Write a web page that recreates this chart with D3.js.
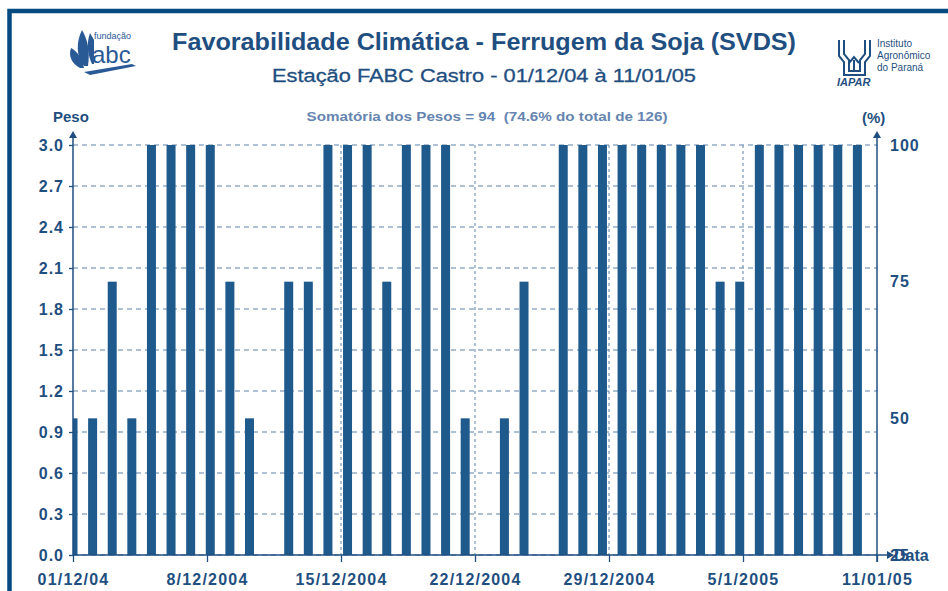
<!DOCTYPE html>
<html>
<head>
<meta charset="utf-8">
<script src="https://cdn.jsdelivr.net/npm/d3@7/dist/d3.min.js"></script>
<style>
body { margin: 0; background: #fff; }
svg { display: block; }
</style>
</head>
<body>
<svg width="948" height="591"></svg>
<script>
// pesos diarios 01/12/04 .. 11/01/05
var pesos = [1, 1, 2, 1, 3, 3, 3, 3, 2, 1,
             0, 2, 2, 3, 3, 3, 2, 3, 3, 3,
             1, 0, 1, 2, 0, 3, 3, 3, 3, 3,
             3, 3, 3, 2, 2, 3, 3, 3, 3, 3,
             3, 0];
var dateLabels = ["01/12/04", "8/12/2004", "15/12/2004", "22/12/2004", "29/12/2004", "5/1/2005", "11/01/05"];
var pesoTicks = [0.0, 0.3, 0.6, 0.9, 1.2, 1.5, 1.8, 2.1, 2.4, 2.7, 3.0];
var pctTicks = [25, 50, 75, 100];

var dark = "#1f4f80";
var barColor = "#1f5a8c";
var gridColor = "#5f82aa";

var svg = d3.select("svg");

var pLeft = 73, pRight = 877, pTop = 145, pBottom = 555;

var x = d3.scaleLinear().domain([0, pesos.length - 1]).range([pLeft, pRight]);
var xd = d3.scalePoint().domain(dateLabels).range([pLeft, pRight]);
var y = d3.scaleLinear().domain([0, 3]).range([pBottom, pTop]);
var y2 = d3.scaleLinear().domain([25, 100]).range([pBottom, pTop]);

// moldura
svg.append("rect")
  .attr("x", 9.5).attr("y", 11)
  .attr("width", 960).attr("height", 600)
  .attr("fill", "none")
  .attr("stroke", "#054a80")
  .attr("stroke-width", 4.5);

// titulos
svg.append("text")
  .attr("x", 484).attr("y", 50)
  .attr("text-anchor", "middle")
  .attr("textLength", 624).attr("lengthAdjust", "spacingAndGlyphs")
  .style("font", "bold 23px 'Liberation Sans', Arial, sans-serif")
  .attr("fill", dark)
  .text("Favorabilidade Climática - Ferrugem da Soja (SVDS)");

svg.append("text")
  .attr("x", 484).attr("y", 82)
  .attr("text-anchor", "middle")
  .attr("textLength", 424).attr("lengthAdjust", "spacingAndGlyphs")
  .style("font", "18px 'Liberation Sans', Arial, sans-serif")
  .attr("fill", dark)
  .attr("stroke", dark).attr("stroke-width", 0.3)
  .text("Estação FABC Castro - 01/12/04 à 11/01/05");

svg.append("text")
  .attr("x", 487).attr("y", 121)
  .attr("text-anchor", "middle")
  .attr("textLength", 361).attr("lengthAdjust", "spacingAndGlyphs")
  .style("font", "bold 13px 'Liberation Sans', Arial, sans-serif")
  .attr("fill", "#6585b0")
  .attr("xml:space", "preserve")
  .text("Somatória dos Pesos = 94  (74.6% do total de 126)");

svg.append("text")
  .attr("x", 53).attr("y", 122)
  .style("font", "bold 15px 'Liberation Sans', Arial, sans-serif")
  .attr("fill", dark)
  .text("Peso");

svg.append("text")
  .attr("x", 862).attr("y", 123)
  .style("font", "bold 15px 'Liberation Sans', Arial, sans-serif")
  .attr("fill", dark)
  .text("(%)");

// grade horizontal
svg.append("g").selectAll("line").data(pesoTicks).enter().append("line")
  .attr("x1", pLeft).attr("x2", pRight)
  .attr("y1", d => y(d)).attr("y2", d => y(d))
  .attr("stroke", gridColor)
  .attr("stroke-width", 1.2)
  .attr("stroke-dasharray", "5,4");

// grade vertical
svg.append("g").selectAll("line").data(dateLabels.slice(1, -1)).enter().append("line")
  .attr("x1", d => xd(d)).attr("x2", d => xd(d))
  .attr("y1", pTop).attr("y2", pBottom)
  .attr("stroke", gridColor)
  .attr("stroke-width", 1)
  .attr("stroke-dasharray", "3,3");

// barras
svg.append("clipPath").attr("id", "plot")
  .append("rect").attr("x", pLeft).attr("y", 0).attr("width", pRight - pLeft).attr("height", pBottom);

svg.append("g").attr("clip-path", "url(#plot)")
  .selectAll("rect").data(pesos).enter().append("rect")
  .attr("x", (d, i) => x(i) - 4.5)
  .attr("width", 9)
  .attr("y", d => y(d))
  .attr("height", d => pBottom - y(d))
  .attr("fill", barColor);

// eixos
var tickFont = "bold 16px 'Liberation Sans', Arial, sans-serif";

var yAxis = svg.append("g")
  .attr("transform", "translate(" + pLeft + ",0)")
  .call(d3.axisLeft(y).tickValues(pesoTicks).tickFormat(d3.format(".1f")).tickSize(4).tickPadding(5));

var y2Axis = svg.append("g")
  .attr("transform", "translate(" + pRight + ",0)")
  .call(d3.axisRight(y2).tickValues(pctTicks).tickSize(0).tickPadding(13));

var xAxis = svg.append("g")
  .attr("transform", "translate(0," + pBottom + ")")
  .call(d3.axisBottom(xd).tickSize(7).tickPadding(9));

[yAxis, y2Axis, xAxis].forEach(function(g){
  g.select(".domain").remove();
  g.selectAll("line").attr("stroke", dark).attr("stroke-width", 1.3);
  g.selectAll("text").style("font", tickFont).style("letter-spacing", "1px").attr("fill", dark);
});
xAxis.selectAll("text").style("letter-spacing", "1.2px").attr("dy", "0.9em");

// linhas dos eixos com setas
var axisLines = [
  [pLeft, pBottom, pLeft, 133],
  [pRight, pBottom + 7, pRight, 133],
  [pLeft, pBottom, 892, pBottom]
];
svg.append("g").selectAll("line").data(axisLines).enter().append("line")
  .attr("x1", d => d[0]).attr("y1", d => d[1])
  .attr("x2", d => d[2]).attr("y2", d => d[3])
  .attr("stroke", dark).attr("stroke-width", 1.5);

var arrows = [
  "M" + (pLeft - 4) + ",138 L" + pLeft + ",131 L" + (pLeft + 4) + ",138 Z",
  "M" + (pRight - 4) + ",138 L" + pRight + ",131 L" + (pRight + 4) + ",138 Z",
  "M887," + (pBottom - 4) + " L894," + pBottom + " L887," + (pBottom + 4) + " Z"
];
svg.append("g").selectAll("path").data(arrows).enter().append("path")
  .attr("d", d => d)
  .attr("fill", dark);

svg.append("text")
  .attr("x", 894).attr("y", pBottom + 6)
  .style("font", "bold 16px 'Liberation Sans', Arial, sans-serif")
  .attr("fill", dark)
  .text("Data");

// logo fundacao abc (simplificado)
var logo1 = svg.append("g").attr("fill", "#2a5a96");
logo1.append("path").attr("d", "M82,30 C76,42 76,56 84,66 L88,66 C90,52 88,40 82,30 Z");
logo1.append("path").attr("d", "M71,48 C68,56 72,64 80,68 L84,68 C82,58 78,52 71,48 Z");
logo1.append("path").attr("d", "M90,33 C86,44 88,56 92,64 L94,64 L94,40 Z");
logo1.append("path").attr("d", "M84,72 L132,64 L136,66 L90,75 Z");
svg.append("text").attr("x", 94).attr("y", 39)
  .style("font", "9px 'Liberation Sans', Arial, sans-serif").attr("fill", "#2a5a96")
  .text("fundação");
svg.append("text").attr("x", 92).attr("y", 63)
  .style("font", "24px 'Liberation Sans', Arial, sans-serif").attr("fill", "#2a5a96")
  .text("abc");

// logo IAPAR (simplificado)
var logo2 = svg.append("g").attr("fill", "none").attr("stroke", "#1f4f80").attr("stroke-width", 2);
logo2.append("path").attr("d", "M839,40 L839,56 L844,62 L844,75 L865,75 L865,62 L870,56 L870,40");
logo2.append("path").attr("d", "M844,40 L844,54 L849,60 L849,71 L860,71 L860,60 L865,54 L865,40");
logo2.append("path").attr("d", "M854,71 L854,60 M849,63 L854,57 L859,63");
svg.append("text").attr("x", 837).attr("y", 86)
  .style("font", "italic bold 11px 'Liberation Sans', Arial, sans-serif").attr("fill", "#1f4f80")
  .text("IAPAR");
var iapar = ["Instituto", "Agronômico", "do Paraná"];
svg.append("g").selectAll("text").data(iapar).enter().append("text")
  .attr("x", 877).attr("y", (d, i) => 47 + i * 12)
  .style("font", "10px 'Liberation Sans', Arial, sans-serif")
  .attr("fill", "#1f4f80")
  .text(d => d);
</script>
</body>
</html>
